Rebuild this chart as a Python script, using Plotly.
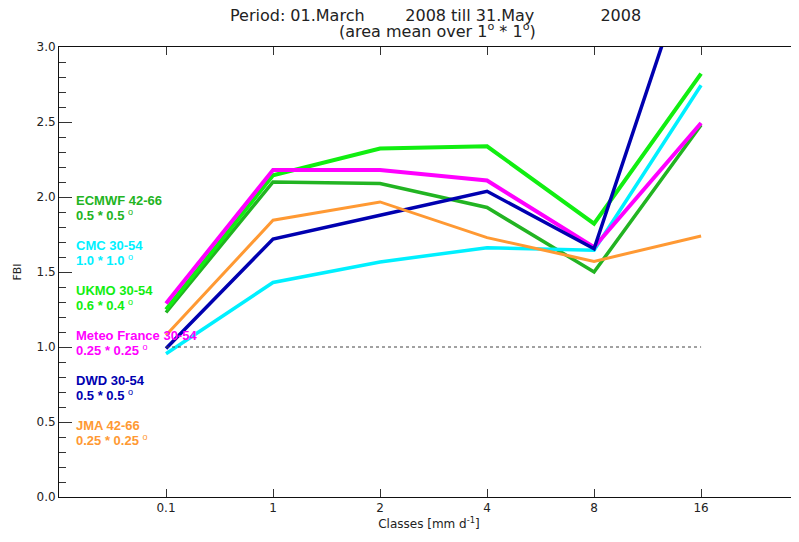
import plotly.graph_objects as go

# ---- data ----
classes = ["0.1", "1", "2", "4", "8", "16"]
models = ["ECMWF 42-66", "CMC 30-54", "UKMO 30-54", "Meteo France 30-54", "DWD 30-54", "JMA 42-66"]
resolutions = ["0.5 * 0.5", "1.0 * 1.0", "0.6 * 0.4", "0.25 * 0.25", "0.5 * 0.5", "0.25 * 0.25"]
ecmwf = [1.23, 2.10, 2.09, 1.93, 1.50, 2.48]
cmc = [0.955, 1.43, 1.567, 1.662, 1.645, 2.745]
ukmo = [1.25, 2.145, 2.323, 2.338, 1.822, 2.822]
meteofrance = [1.29, 2.18, 2.18, 2.11, 1.665, 2.493]
dwd = [0.99, 1.72, 1.878, 2.038, 1.655, 3.79]
jma = [1.078, 1.845, 1.967, 1.729, 1.571, 1.74]
reference = [1.0, 1.0, 1.0, 1.0, 1.0, 1.0]

series = [ecmwf, cmc, ukmo, meteofrance, dwd, jma]
colors = ["#22b422", "#00f0ff", "#11ee11", "#ff00ff", "#0000b0", "#ff9933"]
widths = [3.5, 3.5, 4, 4, 3.5, 3]

fig = go.Figure()
fig.add_trace(go.Scatter(x=classes, y=reference, mode="lines",
                         line=dict(color="#444444", width=1, dash="dot"),
                         yaxis="y2", showlegend=False, hoverinfo="skip"))
for name, vals, col, w in zip(models, series, colors, widths):
    fig.add_trace(go.Scatter(x=classes, y=vals, mode="lines", name=name,
                             line=dict(color=col, width=w), showlegend=False))

# page body has an 8px margin; compensate so the plot lands where the reference has it
OFF = 8
W, H = 799 - OFF, 542 - OFF
L, T, B, R = 59 - OFF, 47 - OFF, 45, 0
ph = H - T - B
pw = W - L - R

def py(pix):
    return 1 + (T + OFF - pix) / ph

def px(pix):
    return (pix - OFF - L) / pw

nb = "\u00a0"
annotations = []
title_font = dict(family="DejaVu Sans", size=16, color="#222222")
annotations.append(dict(text="Period: 01.March" + nb * 7 + " 2008 till 31.May" + nb * 12 + " 2008",
                        xref="paper", yref="paper", x=px(435), y=py(16),
                        xanchor="center", yanchor="middle", showarrow=False, font=title_font))
annotations.append(dict(text="(area mean over 1<sup>o</sup> * 1<sup>o</sup>)",
                        xref="paper", yref="paper", x=px(437), y=py(31),
                        xanchor="center", yanchor="middle", showarrow=False, font=title_font))

label_top = 1.98
label_step = 0.3
for i, (name, res, col) in enumerate(zip(models, resolutions, colors)):
    y1 = label_top - i * label_step
    f = dict(family="Liberation Sans", size=13, color=col)
    annotations.append(dict(text="<b>" + name + "</b>", xref="paper", yref="y", x=px(74), y=y1,
                            xanchor="left", yanchor="middle", showarrow=False, font=f))
    annotations.append(dict(text="<b>" + res + "</b> <sup>o</sup>", xref="paper", yref="y", x=px(74),
                            y=y1 - 0.1, xanchor="left", yanchor="middle", showarrow=False, font=f))

tickfont = dict(family="DejaVu Sans", size=12, color="#222222")
fig.update_layout(
    width=W, height=H,
    margin=dict(l=L, r=R, t=T, b=B),
    plot_bgcolor="white", paper_bgcolor="white",
    annotations=annotations,
    xaxis=dict(type="category", range=[-1, 5.915], showgrid=False, zeroline=False,
               showline=True, linecolor="#111111", linewidth=1, mirror="ticks",
               ticks="inside", ticklen=8, tickcolor="#333333", tickfont=tickfont,
               title=dict(text="Classes [mm d<sup>-1</sup>]", font=dict(family="DejaVu Sans", size=12, color="#222222"),
                          standoff=2)),
    yaxis=dict(range=[0, 3], dtick=0.5, tickformat=".1f", showgrid=False, zeroline=False,
               showline=True, linecolor="#111111", linewidth=1,
               ticks="inside", ticklen=13, tickcolor="#333333", tickfont=tickfont,
               minor=dict(ticks="inside", ticklen=7, dtick=0.1, tickcolor="#333333", showgrid=False),
               title=dict(text="FBI", font=dict(family="DejaVu Sans", size=11, color="#222222"), standoff=12)),
    yaxis2=dict(range=[0, 3], overlaying="y", side="right", dtick=0.5, showgrid=False, zeroline=False,
                showline=False, ticks="inside", ticklen=6, tickcolor="#333333", showticklabels=False),
)

fig.write_html("out.html")
